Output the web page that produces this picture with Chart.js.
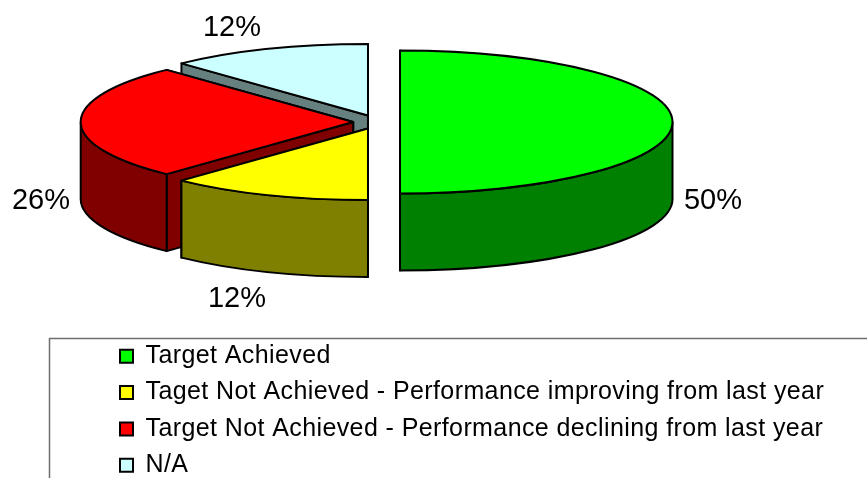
<!DOCTYPE html>
<html>
<head>
<meta charset="utf-8">
<title>Target status</title>
<style>
  html, body { margin: 0; padding: 0; background: #fff; }
  canvas { display: block; }
</style>
<script src="https://cdn.jsdelivr.net/npm/chart.js@4"></script>
</head>
<body>
<canvas id="pie" width="867" height="478"></canvas>
<script>
// ---- data ----
const LABELS = ["Target Achieved",
  "Taget Not Achieved - Performance improving from last year",
  "Target Not Achieved - Performance declining from last year",
  "N/A"];
const VALUES = [50, 12, 26, 12];

// ---- colours ----
const TOPS = ["#00ff00", "#ffff00", "#ff0000", "#ccffff"];
const WALLS = ["#008000", "#808000", "#800000", "#668080"];

// ---- 3d look: the pie is flattened and pulled apart here ----
const CX = 376.6, CY = 122, RX = 272.5, RY = 71.5, DEPTH = 77;
const EXPLODE_X = 23.4, EXPLODE_Y = 7;
const BACK_TO_FRONT = [3, 2, 1, 0];
const LABEL_POS = [[713, 201], [237, 299], [41, 201], [232, 28]];
const FONT = '"Liberation Sans", Arial, sans-serif';

function rim(c, a, dy) {
  return [c.x + Math.cos(a) * RX, c.y + Math.sin(a) * RY + dy];
}

function quad(ctx, a, b, color) {
  ctx.beginPath();
  ctx.moveTo(a[0], a[1]);
  ctx.lineTo(b[0], b[1]);
  ctx.lineTo(b[0], b[1] + DEPTH);
  ctx.lineTo(a[0], a[1] + DEPTH);
  ctx.closePath();
  ctx.fillStyle = color;
  ctx.fill();
  ctx.stroke();
}

function drawSlice(ctx, arc, i) {
  const a0 = arc.startAngle, a1 = arc.endAngle, mid = (a0 + a1) / 2;
  const c = { x: CX + Math.cos(mid) * EXPLODE_X, y: CY + Math.sin(mid) * EXPLODE_Y };
  const apex = [c.x, c.y];

  // cut faces, the one further back first
  const p0 = rim(c, a0, 0), p1 = rim(c, a1, 0);
  const faces = p0[1] < p1[1] ? [p0, p1] : [p1, p0];
  faces.forEach(p => quad(ctx, apex, p, WALLS[i]));

  // outer wall, only the part turned to the viewer
  const from = Math.max(a0, 0), to = Math.min(a1, Math.PI);
  if (to > from) {
    ctx.beginPath();
    ctx.ellipse(c.x, c.y, RX, RY, 0, from, to);
    ctx.ellipse(c.x, c.y + DEPTH, RX, RY, 0, to, from, true);
    ctx.closePath();
    ctx.fillStyle = WALLS[i];
    ctx.fill();
    ctx.stroke();
  }

  // top
  ctx.beginPath();
  ctx.moveTo(c.x, c.y);
  ctx.ellipse(c.x, c.y, RX, RY, 0, a0, a1);
  ctx.closePath();
  ctx.fillStyle = TOPS[i];
  ctx.fill();
  ctx.stroke();
}

const pie3d = {
  id: "pie3d",
  beforeLayout(chart) {
    // the legend text runs wider than plain Arial
    chart.ctx.letterSpacing = "0.4px";
  },
  beforeDraw(chart) {
    // legend frame, open at right and bottom
    const ctx = chart.ctx;
    ctx.save();
    ctx.strokeStyle = "#6e6e6e";
    ctx.lineWidth = 1.5;
    ctx.beginPath();
    ctx.moveTo(49.5, 478);
    ctx.lineTo(49.5, 338.5);
    ctx.lineTo(867, 338.5);
    ctx.stroke();
    ctx.restore();
  },
  beforeDatasetsDraw(chart) {
    const ctx = chart.ctx, arcs = chart.getDatasetMeta(0).data;
    ctx.save();
    ctx.strokeStyle = "#000";
    ctx.lineWidth = 2;
    ctx.lineJoin = "round";
    BACK_TO_FRONT.forEach(i => drawSlice(ctx, arcs[i], i));
    ctx.restore();
    return false; // slices done, skip the flat pie
  },
  afterDraw(chart) {
    const ctx = chart.ctx, total = VALUES.reduce((a, b) => a + b, 0);
    ctx.save();
    ctx.letterSpacing = "0px";
    ctx.font = "29px " + FONT;
    ctx.fillStyle = "#000";
    ctx.textAlign = "center";
    ctx.textBaseline = "middle";
    VALUES.forEach((v, i) => {
      ctx.fillText(Math.round(v / total * 100) + "%", LABEL_POS[i][0], LABEL_POS[i][1]);
    });
    ctx.restore();
  }
};

new Chart(document.getElementById("pie"), {
  type: "pie",
  data: {
    labels: LABELS,
    datasets: [{ data: VALUES, backgroundColor: TOPS, borderColor: "#000", borderWidth: 2 }]
  },
  options: {
    responsive: false,
    animation: false,
    devicePixelRatio: 1,
    layout: { padding: { left: 108.7, bottom: -9.7 } },
    plugins: {
      tooltip: { enabled: false },
      legend: {
        position: "bottom",
        align: "start",
        maxWidth: 760,
        onClick: null,
        labels: {
          boxWidth: 13,
          boxHeight: 13,
          padding: 11.3,
          color: "#000",
          font: { family: FONT, size: 25 }
        }
      }
    }
  },
  plugins: [pie3d]
});
</script>
</body>
</html>
